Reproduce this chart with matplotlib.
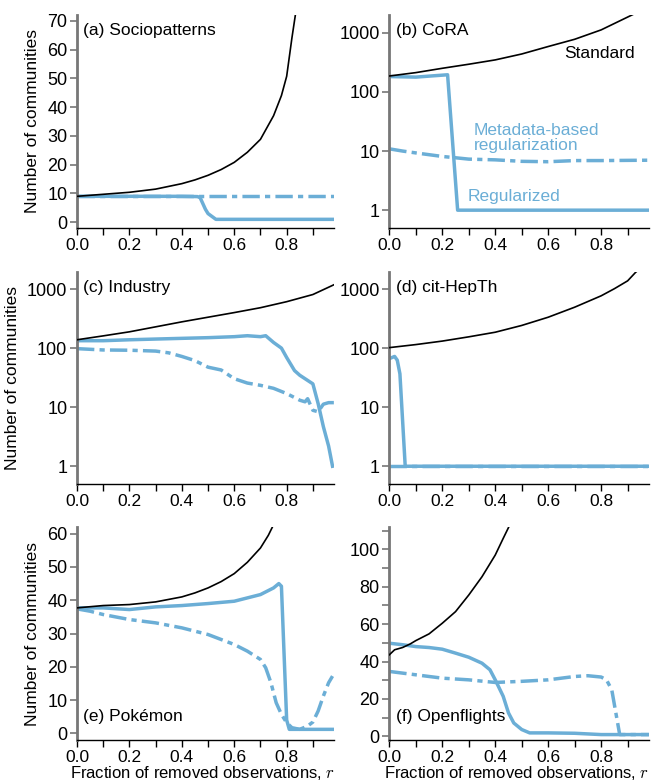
import matplotlib.pyplot as plt
import numpy as np

plt.rcParams['font.family'] = ['Liberation Sans', 'DejaVu Sans']
plt.rcParams['font.size'] = 12.5
plt.rcParams['mathtext.fontset'] = 'cm'

BLUE = '#6baed6'
GREY = '#777777'

# (a) Sociopatterns
a_std_r = [0.0, 0.1, 0.2, 0.3, 0.4, 0.45, 0.5, 0.55, 0.6, 0.65, 0.7, 0.75, 0.78, 0.8, 0.82, 0.834, 0.85]
a_std_y = [9.0, 9.7, 10.4, 11.5, 13.4, 14.7, 16.3, 18.3, 20.8, 24.3, 28.8, 37.0, 44.0, 50.7, 64.0, 72.5, 85.0]
a_reg_r = [0.0, 0.2, 0.4, 0.46, 0.47, 0.49, 0.5, 0.53, 0.6, 0.8, 0.98]
a_reg_y = [9.0, 9.0, 9.0, 8.9, 8.5, 4.5, 3.0, 1.0, 1.0, 1.0, 1.0]
a_meta_r = [0.0, 0.2, 0.4, 0.6, 0.8, 0.98]
a_meta_y = [9.0, 9.0, 9.0, 9.0, 9.0, 9.0]

# (b) CoRA
b_std_r = [0.0, 0.1, 0.2, 0.3, 0.4, 0.5, 0.6, 0.7, 0.8, 0.925, 0.98]
b_std_y = [186, 212, 251, 294, 348, 438, 586, 777, 1120, 2090, 2800]
b_reg_r = [0.0, 0.05, 0.1, 0.15, 0.22, 0.258, 0.3, 0.6, 0.98]
b_reg_y = [182, 180, 178, 185, 195, 1.0, 1.0, 1.0, 1.0]
b_meta_r = [0.0, 0.05, 0.1, 0.2, 0.25, 0.3, 0.4, 0.5, 0.6, 0.7, 0.8, 0.98]
b_meta_y = [10.9, 10.0, 9.3, 8.1, 7.7, 7.3, 7.1, 6.7, 6.6, 6.9, 6.9, 7.0]

# (c) Industry
c_std_r = [0.0, 0.1, 0.2, 0.3, 0.4, 0.5, 0.6, 0.7, 0.8, 0.9, 0.98]
c_std_y = [140, 163, 191, 232, 282, 338, 405, 490, 620, 820, 1200]
c_reg_r = [0.0, 0.1, 0.2, 0.3, 0.4, 0.5, 0.6, 0.65, 0.7, 0.72, 0.75, 0.78, 0.8, 0.83,
           0.85, 0.88, 0.9, 0.92, 0.94, 0.96, 0.975]
c_reg_y = [135, 135, 140, 144, 148, 152, 158, 164, 158, 164, 126, 101, 70, 42,
           35, 28.6, 25, 11.6, 4.7, 2.2, 1.0]
c_meta_r = [0.0, 0.1, 0.2, 0.3, 0.35, 0.4, 0.45, 0.5, 0.55, 0.58, 0.6, 0.65, 0.7, 0.75,
            0.8, 0.85, 0.87, 0.88, 0.9, 0.92, 0.94, 0.96, 0.98]
c_meta_y = [99, 94, 93, 90, 84, 73, 62, 48, 43, 35, 30.6, 25.8, 23.6, 21,
            17.1, 13.2, 12.4, 14, 8.9, 8.4, 11.3, 12, 12]

# (d) cit-HepTh
d_std_r = [0.0, 0.1, 0.2, 0.3, 0.4, 0.5, 0.6, 0.7, 0.8, 0.85, 0.9, 0.93, 0.98]
d_std_y = [103, 116, 133, 157, 188, 245, 338, 500, 780, 1030, 1400, 1950, 3000]
d_reg_r = [0.0, 0.02, 0.03, 0.04, 0.05, 0.06, 0.1, 0.5, 0.98]
d_reg_y = [67, 73, 63, 37, 6.1, 1.0, 1.0, 1.0, 1.0]
d_meta_r = [0.0, 0.5, 0.98]
d_meta_y = [1.0, 1.0, 1.0]

# (e) Pokemon
e_std_r = [0.0, 0.1, 0.2, 0.3, 0.4, 0.45, 0.5, 0.55, 0.6, 0.65, 0.7, 0.73, 0.75, 0.78]
e_std_y = [37.7, 38.4, 38.7, 39.5, 41.0, 42.2, 43.7, 45.6, 48.0, 51.4, 55.7, 59.5, 62.7, 68.0]
e_reg_r = [0.0, 0.1, 0.2, 0.3, 0.4, 0.5, 0.6, 0.65, 0.7, 0.75, 0.77, 0.78, 0.79, 0.8,
           0.81, 0.9, 0.98]
e_reg_y = [37.7, 37.7, 37.2, 38.0, 38.4, 39.0, 39.7, 40.7, 41.7, 43.7, 45.0, 44.2, 24.0, 4.0,
           1.2, 1.2, 1.2]
e_meta_r = [0.0, 0.05, 0.1, 0.2, 0.3, 0.4, 0.5, 0.6, 0.65, 0.7, 0.72, 0.74, 0.76, 0.78,
            0.8, 0.82, 0.85, 0.88, 0.9, 0.92, 0.94, 0.96, 0.975]
e_meta_y = [37.4, 36.7, 35.7, 34.2, 33.2, 31.7, 29.7, 26.7, 24.7, 22.2, 19.7, 15.2, 9.2, 5.7,
            3.2, 1.7, 1.2, 2.2, 3.4, 6.7, 11.2, 15.2, 17.2]

# (f) Openflights
f_std_r = [0.0, 0.02, 0.05, 0.08, 0.1, 0.15, 0.2, 0.25, 0.3, 0.35, 0.4, 0.43, 0.45, 0.47]
f_std_y = [43.6, 46.3, 47.5, 49.5, 51.2, 54.8, 60.5, 66.7, 75.6, 85.4, 97.0, 105.9, 111.7, 118.0]
f_reg_r = [0.0, 0.05, 0.1, 0.15, 0.2, 0.25, 0.3, 0.35, 0.38, 0.4, 0.43, 0.45, 0.47, 0.5,
           0.53, 0.6, 0.7, 0.8, 0.98]
f_reg_y = [49.8, 49.0, 48.0, 47.5, 46.6, 44.5, 42.3, 39.1, 35.6, 30.2, 21.4, 12.5, 7.1, 3.6,
           1.8, 1.8, 1.6, 0.9, 0.9]
f_meta_r = [0.0, 0.1, 0.2, 0.3, 0.4, 0.5, 0.6, 0.7, 0.75, 0.8, 0.82, 0.84, 0.86, 0.87,
            0.9, 0.98]
f_meta_y = [34.7, 32.9, 31.1, 30.2, 28.8, 29.4, 30.2, 32.0, 32.4, 31.7, 30.2, 24.9, 8.9, 0.9,
            0.9, 0.9]

panels = [
    ('(a) Sociopatterns', a_std_r, a_std_y, a_reg_r, a_reg_y, a_meta_r, a_meta_y),
    ('(b) CoRA', b_std_r, b_std_y, b_reg_r, b_reg_y, b_meta_r, b_meta_y),
    ('(c) Industry', c_std_r, c_std_y, c_reg_r, c_reg_y, c_meta_r, c_meta_y),
    ('(d) cit-HepTh', d_std_r, d_std_y, d_reg_r, d_reg_y, d_meta_r, d_meta_y),
    ('(e) Pokémon', e_std_r, e_std_y, e_reg_r, e_reg_y, e_meta_r, e_meta_y),
    ('(f) Openflights', f_std_r, f_std_y, f_reg_r, f_reg_y, f_meta_r, f_meta_y),
]

fig = plt.figure(figsize=(6.62, 7.81), dpi=100)
lefts = [0.1163, 0.5881]
widths = [0.388, 0.392]
bottoms = [0.7081, 0.3803, 0.0525]
heights = [0.2727, 0.2718, 0.2727]
xtick_labels = ['0.0', '', '0.2', '', '0.4', '', '0.6', '', '0.8', '']

axes = []
for i, (title, sr, sy, rr, ry, mr, my) in enumerate(panels):
    row, col = divmod(i, 2)
    ax = fig.add_axes([lefts[col], bottoms[row], widths[col], heights[row]])
    axes.append(ax)
    ax.plot(sr, sy, color='black', lw=1.2, zorder=3)
    ax.plot(mr, my, color=BLUE, lw=2.5, dashes=(5, 1.5, 1.5, 1.5), zorder=2)
    ax.plot(rr, ry, color=BLUE, lw=2.5, zorder=2)

    if row == 1 or i == 1:
        ax.set_yscale('log')
        ax.set_ylim(0.5, 2000)
        ax.set_yticks([1, 10, 100, 1000])
        ax.set_yticklabels(['1', '10', '100', '1000'])
        ax.minorticks_off()

    ax.set_xlim(0, 0.98)
    ax.set_xticks(np.arange(0, 1.0, 0.1))
    ax.set_xticklabels(xtick_labels)
    for s in ['top', 'right']:
        ax.spines[s].set_visible(False)
    ax.spines['left'].set_color(GREY)
    ax.spines['left'].set_linewidth(2)
    ax.spines['bottom'].set_color('black')
    ax.spines['bottom'].set_linewidth(1)
    ax.tick_params(axis='y', colors=GREY, labelcolor='black', length=5, width=1.2, pad=2,
                   labelsize=13)
    ax.tick_params(axis='x', length=5, width=1, pad=2.5, labelsize=12.5)
    if col == 0:
        ax.set_ylabel('Number of communities', labelpad=5)
    if row == 2:
        ax.set_xlabel('Fraction of removed observations, $r$', fontsize=12)
        ax.xaxis.set_label_coords(0.49, -0.18)
        ax.xaxis.label.set_va('baseline')

    if row == 2:
        ax.text(0.025, 0.11, title, transform=ax.transAxes, ha='left', va='center')
    else:
        ax.text(0.025, 0.925, title, transform=ax.transAxes, ha='left', va='center')

axes[0].set_ylim(-2, 72)
axes[0].set_yticks(np.arange(0, 71, 10))
axes[4].set_ylim(-2, 62)
axes[4].set_yticks(np.arange(0, 61, 10))
axes[5].set_ylim(-2, 112)
axes[5].set_yticks(np.arange(0, 111, 10))
axes[5].set_yticklabels(['0', '', '20', '', '40', '', '60', '', '80', '', '100', ''])

axb = axes[1]
axb.text(0.674, 0.82, 'Standard', transform=axb.transAxes, ha='left', va='center')
axb.text(0.325, 0.423, 'Metadata-based\nregularization', transform=axb.transAxes,
         ha='left', va='center', color=BLUE, linespacing=1.05)
axb.text(0.302, 0.147, 'Regularized', transform=axb.transAxes, ha='left', va='center',
         color=BLUE)

fig.savefig('out.png', dpi=100)
